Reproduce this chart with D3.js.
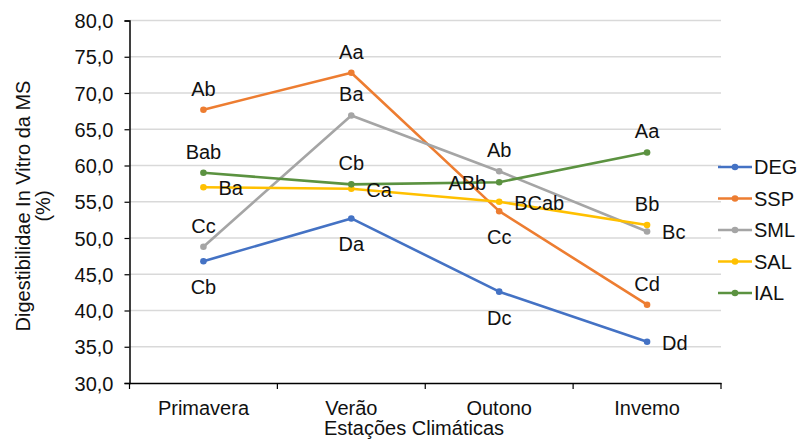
<!DOCTYPE html>
<html><head><meta charset="utf-8">
<script src="https://cdn.jsdelivr.net/npm/d3@7/dist/d3.min.js"></script>
<style>body{margin:0;background:#fff}svg{display:block;font-family:"Liberation Sans",Arial,sans-serif}</style>
</head><body><svg id="c" width="798" height="443"></svg>
<script>
const seasons = ["Primavera", "Verão", "Outono", "Invemo"];
const seriesNames = ["DEG", "SSP", "SML", "SAL", "IAL"];
const DEG = [46.8, 52.7, 42.6, 35.7];
const SSP = [67.7, 72.8, 53.7, 40.8];
const SML = [48.8, 66.9, 59.2, 50.9];
const SAL = [57.0, 56.8, 55.0, 51.8];
const IAL = [59.0, 57.4, 57.7, 61.8];
const DEG_labels = ["Cb", "Da", "Dc", "Dd"];
const SSP_labels = ["Ab", "Aa", "Cc", "Cd"];
const SML_labels = ["Cc", "Ba", "Ab", "Bc"];
const SAL_labels = ["Ba", "Ca", "BCab", "Bb"];
const IAL_labels = ["Bab", "Cb", "ABb", "Aa"];
const DEG_pos = ["below", "below", "below", "right"];
const SSP_pos = ["above", "above", "below", "above"];
const SML_pos = ["above", "above", "above", "right"];
const SAL_pos = ["right", "right", "right", "above"];
const IAL_pos = ["above", "above", "left", "above"];
const yTicks = [30, 35, 40, 45, 50, 55, 60, 65, 70, 75, 80];
const colors = ["#4472C4", "#ED7D31", "#A5A5A5", "#FFC000", "#5B9240"];

const series = [
  {name: "DEG", values: DEG, labels: DEG_labels, pos: DEG_pos},
  {name: "SSP", values: SSP, labels: SSP_labels, pos: SSP_pos},
  {name: "SML", values: SML, labels: SML_labels, pos: SML_pos},
  {name: "SAL", values: SAL, labels: SAL_labels, pos: SAL_pos},
  {name: "IAL", values: IAL, labels: IAL_labels, pos: IAL_pos}
];

const svg = d3.select("#c");
const L = 129.5, R = 721, T = 20.5, B = 383;
const x = d3.scaleBand().domain(seasons).range([L, R]);
const y = d3.scaleLinear().domain([30, 80]).range([B, T]);
const color = d3.scaleOrdinal().domain(seriesNames).range(colors);
const FS = 20;
const TXT = "#111";

// gridlines
svg.append("g").selectAll("line").data(yTicks.filter(d => d > 30)).join("line")
  .attr("x1", L).attr("x2", R).attr("y1", d => y(d)).attr("y2", d => y(d))
  .attr("stroke", "#d9d9d9").attr("stroke-width", 1.5);

// y axis
const ya = svg.append("g").attr("transform", `translate(${L},0)`)
  .call(d3.axisLeft(y).tickValues(yTicks).tickSize(5).tickPadding(11)
    .tickFormat(d => d3.format(".1f")(d).replace(".", ",")));
ya.select(".domain").attr("stroke", "#000").attr("stroke-width", 1.5);
ya.selectAll(".tick line").attr("stroke", "#000").attr("stroke-width", 1.2);
ya.selectAll("text").attr("font-size", FS).attr("fill", TXT)
  .attr("font-family", "Liberation Sans, Arial, sans-serif").attr("dy", "0.35em");

// x axis
const xa = svg.append("g").attr("transform", `translate(0,${B})`)
  .call(d3.axisBottom(x).tickSize(0).tickPadding(25));
xa.select(".domain").attr("stroke", "#000").attr("stroke-width", 1.5);
xa.selectAll("text").attr("font-size", FS).attr("fill", TXT)
  .attr("font-family", "Liberation Sans, Arial, sans-serif").attr("dy", "0.35em");
// category boundary ticks
const bounds = seasons.map(s => x(s)).concat([x(seasons[seasons.length-1]) + x.bandwidth()]);
svg.append("g").selectAll("line").data(bounds).join("line")
  .attr("x1", d => d).attr("x2", d => d).attr("y1", B).attr("y2", B + 6)
  .attr("stroke", "#000").attr("stroke-width", 1.2);

// axis titles
svg.append("text").attr("x", 414).attr("y", 435).attr("text-anchor", "middle")
  .attr("font-size", FS).attr("fill", TXT).text("Estações Climáticas");
const yt = svg.append("text").attr("transform", "translate(30,206) rotate(-90)")
  .attr("text-anchor", "middle").attr("font-size", FS).attr("fill", TXT);
yt.append("tspan").attr("x", 0).attr("y", 0).text("Digestibilidae In Vitro da MS");
yt.append("tspan").attr("x", 0).attr("y", 20).text("(%)");

const cx = s => x(s) + x.bandwidth() / 2;
const line = d3.line().x((d, i) => cx(seasons[i])).y(d => y(d));

const g = svg.append("g");
series.forEach(s => {
  g.append("path").datum(s.values).attr("d", line).attr("fill", "none")
    .attr("stroke", color(s.name)).attr("stroke-width", 2.6).attr("stroke-linejoin", "round");
});
series.forEach(s => {
  g.append("g").selectAll("circle").data(s.values).join("circle")
    .attr("cx", (d, i) => cx(seasons[i])).attr("cy", d => y(d)).attr("r", 3.3)
    .attr("fill", color(s.name));
});
// data labels
series.forEach(s => {
  g.append("g").selectAll("text").data(s.values).join("text")
    .attr("font-size", FS).attr("fill", TXT)
    .attr("x", (d, i) => {
      const p = s.pos[i], px = cx(seasons[i]);
      return p === "right" ? px + 15 : p === "left" ? px - 13 : px;
    })
    .attr("y", (d, i) => {
      const p = s.pos[i], py = y(d);
      return p === "above" ? py - 14 : p === "below" ? py + 33 : py + 8;
    })
    .attr("text-anchor", (d, i) => s.pos[i] === "right" ? "start" : s.pos[i] === "left" ? "end" : "middle")
    .text((d, i) => s.labels[i]);
});

// legend
const lg = svg.append("g").selectAll("g").data(seriesNames).join("g")
  .attr("transform", (d, i) => `translate(718,${167 + i * 31.5})`);
lg.append("line").attr("x1", 0).attr("x2", 34).attr("stroke", d => color(d)).attr("stroke-width", 2.6);
lg.append("circle").attr("cx", 17).attr("r", 3.3).attr("fill", d => color(d));
lg.append("text").attr("x", 36).attr("y", 7).attr("font-size", FS).attr("fill", TXT).text(d => d);
</script></body></html>
